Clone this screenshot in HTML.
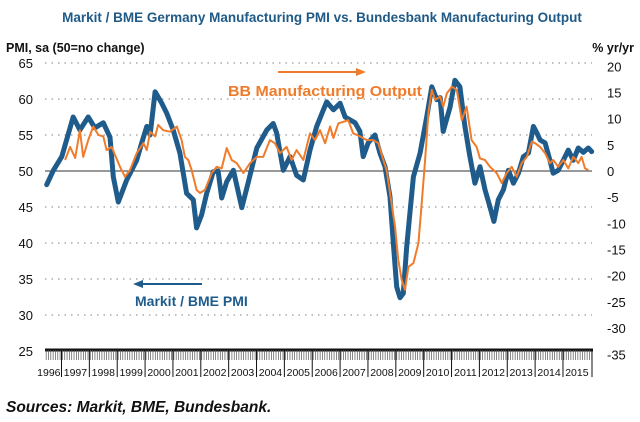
<!DOCTYPE html>
<html><head><meta charset="utf-8">
<style>
html,body{margin:0;padding:0;background:#fff;}
svg{display:block;font-family:"Liberation Sans",Arial,sans-serif;}
</style></head>
<body>
<svg id="chart" width="640" height="422" viewBox="0 0 640 422">
<text x="322" y="22" text-anchor="middle" font-size="13.5" font-weight="bold" fill="#1f5a87">Markit / BME Germany Manufacturing PMI vs. Bundesbank Manufacturing Output</text>
<text x="6" y="52" font-size="12.5" font-weight="bold" fill="#111">PMI, sa (50=no change)</text>
<text x="634" y="52" text-anchor="end" font-size="12.5" font-weight="bold" fill="#111">% yr/yr</text>
<g id="grid"></g>
<g id="yl"></g>
<g id="yr"></g>
<g id="xa"></g>
<g id="series"></g>
<line x1="278" y1="72" x2="358" y2="72" stroke="#f07c2b" stroke-width="2"/>
<polygon points="366,72 356,68 356,76" fill="#f07c2b"/>
<text x="228" y="96" font-size="15" font-weight="bold" fill="#f07c2b" textLength="194" lengthAdjust="spacingAndGlyphs">BB Manufacturing Output</text>
<line x1="142" y1="284" x2="202" y2="284" stroke="#1f5c8b" stroke-width="2"/>
<polygon points="133,284 143,280 143,288" fill="#1f5c8b"/>
<text x="135" y="306" font-size="14" font-weight="bold" fill="#1f5c8b">Markit / BME PMI</text>
<text x="6" y="412" font-size="15.5" font-weight="bold" font-style="italic" fill="#111">Sources: Markit, BME, Bundesbank.</text>
</svg>
<script>
const leftTicks=[65,60,55,50,45,40,35,30,25];
const rightTicks=[20,15,10,5,0,-5,-10,-15,-20,-25,-30,-35];
const years=[1996,1997,1998,1999,2000,2001,2002,2003,2004,2005,2006,2007,2008,2009,2010,2011,2012,2013,2014,2015];
const pmiDates=[1996.47,1996.71,1997.01,1997.42,1997.66,1997.96,1998.20,1998.50,1998.74,1998.86,1999.04,1999.34,1999.70,1999.88,2000.06,2000.18,2000.36,2000.60,2000.78,2001.01,2001.25,2001.49,2001.73,2001.85,2002.03,2002.21,2002.45,2002.62,2002.75,2002.93,2003.17,2003.47,2003.71,2004.01,2004.37,2004.60,2004.72,2004.96,2005.20,2005.44,2005.68,2005.92,2006.16,2006.40,2006.52,2006.76,2007.00,2007.18,2007.36,2007.54,2007.71,2007.83,2008.01,2008.25,2008.43,2008.61,2008.79,2008.91,2009.03,2009.15,2009.27,2009.39,2009.63,2009.87,2010.11,2010.29,2010.47,2010.59,2010.70,2010.95,2011.12,2011.30,2011.48,2011.66,2011.84,2012.02,2012.20,2012.38,2012.52,2012.68,2012.86,2013.04,2013.22,2013.40,2013.58,2013.76,2013.94,2014.06,2014.18,2014.36,2014.53,2014.65,2014.83,2015.01,2015.19,2015.37,2015.55,2015.73,2015.91,2016.03];
const pmiValues=[48.1,50.1,52,57.5,55.7,57.5,56,56.7,54.7,49.2,45.7,48.75,51.5,53.9,56.2,55,61,59.4,58,55.7,52.5,46.9,46,42.1,43.9,46.9,49.9,50,46.25,48.5,50.1,44.9,48.5,53.2,55.7,56.6,55.3,50.1,52,49.4,48.75,52.9,56.2,58.5,59.6,58.5,59.4,57.5,57.1,56.7,55.5,52,53.9,55,52.5,50.6,46.4,40,33.9,32.4,33,39.5,49.2,52.5,57.5,61.7,59.9,60.2,55.5,58.9,62.6,61.7,56.2,52,48.3,50.6,47.4,45,43,46,47.4,50.1,48.3,49.7,52,52.5,56.2,55.3,54.3,53.9,51.5,49.7,50.1,51.5,52.9,51.5,53.2,52.6,53.2,52.7];
const outDates=[1997.13,1997.31,1997.49,1997.66,1997.78,1997.96,1998.14,1998.32,1998.50,1998.62,1998.80,1999.10,1999.28,1999.46,1999.70,1999.94,2000.06,2000.18,2000.36,2000.47,2000.65,2000.89,2001.14,2001.31,2001.43,2001.55,2001.67,2001.85,2001.97,2002.15,2002.39,2002.57,2002.75,2002.93,2003.11,2003.29,2003.53,2003.77,2004.01,2004.24,2004.48,2004.66,2004.84,2005.08,2005.26,2005.44,2005.68,2005.92,2006.10,2006.28,2006.46,2006.64,2006.76,2006.94,2007.12,2007.29,2007.47,2007.71,2007.96,2008.19,2008.37,2008.55,2008.67,2008.79,2008.97,2009.09,2009.21,2009.33,2009.45,2009.63,2009.81,2009.93,2010.05,2010.17,2010.29,2010.41,2010.59,2010.70,2010.83,2011.01,2011.19,2011.37,2011.54,2011.72,2011.90,2012.02,2012.20,2012.38,2012.62,2012.80,2012.98,2013.16,2013.34,2013.52,2013.70,2013.88,2014.00,2014.18,2014.36,2014.53,2014.65,2014.83,2015.01,2015.19,2015.37,2015.55,2015.67,2015.79,2015.91];
const outValues=[2.1,4.6,2.5,7.8,2.7,5.9,8.5,6.9,6.6,4,4.6,0.8,-1.1,0.2,3.4,5.3,4,7.5,6.6,8.8,7.8,7.5,8.5,5.9,2.7,2.1,0.2,-3.6,-4.2,-3.6,-0.4,0.8,0.5,4.4,2.1,1.5,-0.4,1.5,2.7,2.7,5.9,5.3,3.4,4.6,2.1,4,2.1,7.2,5.9,7.8,5.3,8.5,6.3,9.1,9.4,9.7,7.2,6.6,5.9,5.9,5.3,2.1,0.2,-4.2,-10.6,-17,-20.8,-22.7,-18.3,-17.6,-13.8,-6.2,2.1,11.1,15.5,13.6,14.2,12.3,14.8,16.1,15.5,9.7,12.3,5.9,4.6,2.4,2.1,0.8,-0.4,-2.3,-0.4,0.8,-1.1,1.5,2.7,5.6,5.3,4.6,3.4,1.5,2.1,0.8,2.1,0.5,2.7,1.5,2.7,0.5,0.2];

const NS='http://www.w3.org/2000/svg';
const X0=45,X1=592;
function xs(t){return 61.5+(t-1997)*27.86;}
function yL(v){return 171-(v-50)*7.2;}
function yR(v){return 171-v*(7.2/1.375);}
function mk(tag,attrs,parent){const e=document.createElementNS(NS,tag);for(const k in attrs)e.setAttribute(k,attrs[k]);parent.appendChild(e);return e;}
const grid=document.getElementById('grid'),yl=document.getElementById('yl'),yr=document.getElementById('yr'),xa=document.getElementById('xa'),ser=document.getElementById('series');
leftTicks.forEach(v=>{
  const y=yL(v);
  if(v>25&&v!==50){const g=mk('line',{x1:X0,x2:X1,y1:y,y2:y,stroke:'#999','stroke-width':1.2,'stroke-dasharray':'1.5 5'},grid);
  
  }
  const t=mk('text',{x:33,y:y+5,'text-anchor':'end','font-size':13,fill:'#111'},yl);t.textContent=v;
  
  
});
const zl=mk('line',{x1:X0,x2:X1,y1:yL(50),y2:yL(50),stroke:'#333','stroke-width':1},grid);


rightTicks.forEach(v=>{
  const t=mk('text',{x:607,y:yR(v)+5,'font-size':13,fill:'#111'},yr);t.textContent=v;
  
  
});
const ax=mk('line',{x1:X0,x2:X1+1,y1:350,y2:350,stroke:'#111','stroke-width':3},xa);


for(let m=0;;m++){const t=1996.45+m/12;const x=xs(t);if(x>X1)break;
  const tk=mk('line',{x1:x,x2:x,y1:350,y2:360,stroke:'#555','stroke-width':0.7},xa);
  
  }
years.forEach((yv,i)=>{
  const x0=Math.max(xs(yv),X0),x1=xs(yv+1);
  if(yv>1996){const s=mk('line',{x1:xs(yv),x2:xs(yv),y1:350,y2:377,stroke:'#111','stroke-width':1},xa);
  
  }
  const t=mk('text',{x:(yv===1996?xs(1997)-1:(x0+x1)/2),y:376,'text-anchor':yv===1996?'end':'middle','font-size':10.5,fill:'#111'},xa);t.textContent=yv;
  
  
});
const endSep=mk('line',{x1:X1,x2:X1,y1:350,y2:377,stroke:'#111','stroke-width':1},xa);


const pp=pmiDates.map((d,i)=>xs(d).toFixed(1)+','+yL(pmiValues[i]).toFixed(1)).join(' ');
const pl=mk('polyline',{points:pp,fill:'none',stroke:'#1f5c8b','stroke-width':5,'stroke-linejoin':'round','stroke-linecap':'round'},ser);


const op=outDates.map((d,i)=>xs(d).toFixed(1)+','+yR(outValues[i]).toFixed(1)).join(' ');
const ol=mk('polyline',{points:op,fill:'none',stroke:'#f07c2b','stroke-width':2,'stroke-linejoin':'round'},ser);


</script>
</body></html>
